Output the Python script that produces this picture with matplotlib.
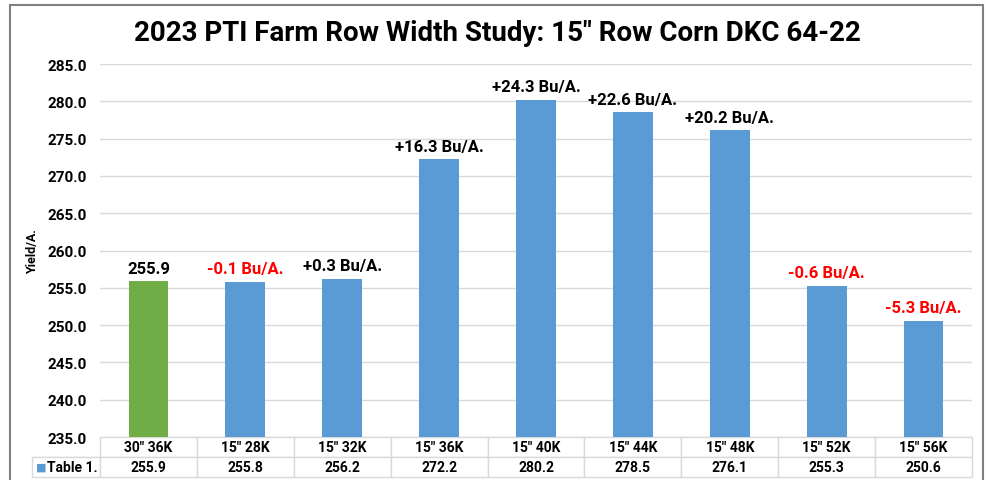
import matplotlib
matplotlib.use("Agg")
import matplotlib.pyplot as plt
from matplotlib.patches import Rectangle

plt.rcParams['font.family'] = ['Roboto', 'DejaVu Sans']

categories = ['30" 36K', '15" 28K', '15" 32K', '15" 36K', '15" 40K',
              '15" 44K', '15" 48K', '15" 52K', '15" 56K']
yields = [255.9, 255.8, 256.2, 272.2, 280.2, 278.5, 276.1, 255.3, 250.6]
series_name = 'Table 1.'

BLUE = '#5B9BD5'
GREEN = '#70AD47'
GRID = '#D9D9D9'

fig = plt.figure(figsize=(9.87, 4.81), dpi=100)
W, H = 987, 481

# outer chart frame
fig.patches.append(Rectangle((10 / W, -0.05), 973 / W, 1.05 - 6 / H,
                             transform=fig.transFigure, fill=False,
                             edgecolor='#808080', linewidth=1.5))

ax = fig.add_axes([100 / W, 1 - 438 / H, 872 / W, 373 / H])

x = list(range(len(categories)))
colors = [GREEN] + [BLUE] * (len(categories) - 1)
bars = ax.bar(x, yields, width=0.41, color=colors, zorder=3)

ax.set_ylim(235, 285)
ax.set_xlim(-0.5, len(categories) - 0.5)
ax.set_yticks([235 + 5 * i for i in range(11)])
ax.set_yticklabels(['%.1f' % (235 + 5 * i) for i in range(11)],
                   fontsize=11, fontweight='bold')
ax.tick_params(axis='y', length=0, pad=9.5)
ax.set_xticks([])
ax.grid(axis='y', color=GRID, linewidth=1, zorder=0)
for s in ax.spines.values():
    s.set_visible(False)

ax.set_ylabel('Yield/A.', fontsize=9, fontweight='bold', labelpad=6)

# data labels: baseline value, then difference from baseline
base = yields[0]
for i, v in enumerate(yields):
    if i == 0:
        txt, c = '%.1f' % v, 'black'
    else:
        d = round(v - base, 1)
        txt = '%+.1f Bu/A.' % d
        c = 'red' if d < 0 else 'black'
    ax.annotate(txt, (i, v), xytext=(0, 4), textcoords='offset points',
                ha='center', va='bottom', fontsize=12, fontweight='bold',
                color=c, annotation_clip=False)

fig.suptitle('2023 PTI Farm Row Width Study: 15" Row Corn DKC 64-22',
             x=497 / W, y=1 - 20 / H, va='top',
             fontsize=20, fontweight='bold')

# data table under the axis
first_w = 68 / 872
cell_text = [[''] + categories,
             [''] + ['%.1f' % v for v in yields]]
tbl = ax.table(cellText=cell_text, cellLoc='center',
               colWidths=[first_w] + [1 / len(categories)] * len(categories),
               bbox=[-first_w, -40 / 373, 1 + first_w, 40 / 373])
tbl.auto_set_font_size(False)
for (r, c), cell in tbl.get_celld().items():
    cell.set_edgecolor(GRID)
    cell.set_linewidth(1)
    cell.get_text().set_fontweight('bold')
    cell.get_text().set_fontsize(10)
    if r == 0 and c == 0:
        cell.visible_edges = 'B'
ax.text(-first_w + 4 / 872, -30 / 373, '\u25A0', color=BLUE, fontsize=8,
        va='center', ha='left', transform=ax.transAxes, family='DejaVu Sans')
ax.text(-first_w + 15 / 872, -30 / 373, series_name, fontsize=10,
        fontweight='bold', va='center', ha='left', transform=ax.transAxes)

fig.savefig('out.png', dpi=100)
